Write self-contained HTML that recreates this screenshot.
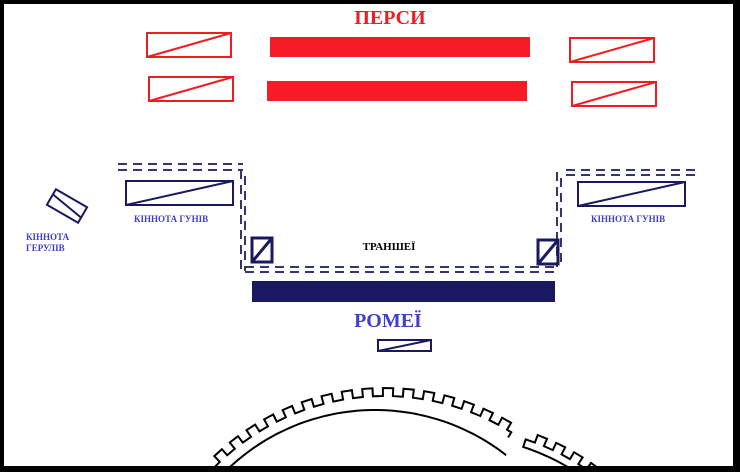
<!DOCTYPE html>
<html><head><meta charset="utf-8"><style>
html,body{margin:0;padding:0;background:#fff;width:740px;height:472px;overflow:hidden}
svg{display:block}
text{font-family:"Liberation Serif",serif;font-weight:bold}
</style></head><body>
<svg id="s" width="740" height="472" viewBox="0 0 740 472" xmlns="http://www.w3.org/2000/svg">
<rect x="0" y="0" width="740" height="472" fill="#fff"/>
<g fill="none" stroke="#ef1c24" stroke-width="2">
<rect x="147" y="33" width="84" height="24"/><line x1="147" y1="57" x2="231" y2="33"/>
<rect x="149" y="77" width="84" height="24"/><line x1="149" y1="101" x2="233" y2="77"/>
<rect x="570" y="38" width="84" height="24"/><line x1="570" y1="62" x2="654" y2="38"/>
<rect x="572" y="82" width="84" height="24"/><line x1="572" y1="106" x2="656" y2="82"/>
</g>
<rect x="270" y="37" width="260" height="20" fill="#f71b26"/>
<rect x="267" y="81" width="260" height="20" fill="#f71b26"/>
<text x="390" y="24" font-size="20" fill="#ef1c24" text-anchor="middle">ПЕРСИ</text>
<g fill="none" stroke="#353570" stroke-width="2" stroke-dasharray="9,6">
<path d="M118 164H243M118 170H243"/>
<path d="M241 170V271M245 176V271"/>
<path d="M245 267H560M245 272H560"/>
<path d="M557 172V267M561 178V267"/>
<path d="M566 170H697M566 175H697"/>
</g>
<g fill="none" stroke="#1a1860" stroke-width="2">
<rect x="126" y="181" width="107" height="24"/><line x1="126" y1="205" x2="233" y2="181"/>
<rect x="578" y="182" width="107" height="24"/><line x1="578" y1="206" x2="685" y2="182"/>
<rect x="378" y="340" width="53" height="11"/><line x1="378" y1="351" x2="431" y2="340"/>
<g transform="translate(67,206) rotate(30)"><rect x="-18" y="-9" width="36" height="18"/><line x1="-18" y1="-3" x2="18" y2="3"/></g>
</g>
<g fill="none" stroke="#1a1860" stroke-width="3">
<rect x="252" y="238" width="20" height="24"/><line x1="252" y1="262" x2="272" y2="238"/>
<rect x="538" y="240" width="20" height="24"/><line x1="538" y1="264" x2="558" y2="240"/>
</g>
<rect x="252" y="281" width="303" height="21" fill="#1a1860"/>
<text x="134" y="222" font-size="9" fill="#4040cc">КІННОТА ГУНІВ</text>
<text x="591" y="222" font-size="9" fill="#4040cc">КІННОТА ГУНІВ</text>
<text x="26" y="240" font-size="9" fill="#4040cc">КІННОТА</text>
<text x="26" y="251" font-size="9" fill="#4040cc">ГЕРУЛІВ</text>
<text x="389" y="250" font-size="11" fill="#000" text-anchor="middle">ТРАНШЕЇ</text>
<text x="388" y="327" font-size="20" fill="#4040cc" text-anchor="middle">РОМЕЇ</text>
<path id="arc" fill="none" stroke="#000" stroke-width="2"/>
<path id="w1" fill="none" stroke="#000" stroke-width="2"/>
<path id="w2" fill="none" stroke="#000" stroke-width="2"/>
<rect x="0" y="0" width="740" height="4" fill="#000"/>
<rect x="0" y="466" width="740" height="6" fill="#000"/>
<rect x="0" y="0" width="4" height="472" fill="#000"/>
<rect x="733" y="0" width="7" height="472" fill="#000"/>
</svg>
<script>
(function(){
function P(cx,cy){return function(r,a){a=a*Math.PI/180;return (cx+r*Math.sin(a)).toFixed(1)+" "+(cy-r*Math.cos(a)).toFixed(1);};}
function cren(p,a0,a1,step,lo,hi,bot){var up=false,a=a0;var pts=[];
 pts.push(p(bot,a0));
 while(a<a1-0.01){var rr=up?hi:lo;pts.push(p(rr,a));var n=Math.min(a+step,a1);pts.push(p(rr,n));a=n;up=!up;}
 pts.push(p(bot,a1));
 return pts;}
var pa=P(375,623);
var ad="M"+pa(213,-46);
for(var t=-45;t<=38;t+=1)ad+=" L"+pa(213,t);
document.getElementById("arc").setAttribute("d",ad);
var p1=P(384.6,635);
var a=cren(p1,-46,32,2.4,239,247,233);
document.getElementById("w1").setAttribute("d","M"+a.join(" L"));
var p2=P(454,660);
var b=cren(p2,18,38,2.4,232,240,224);
var d="M"+b.join(" L");
for(var t2=38;t2>=18;t2-=1)d+=" L"+p2(224,t2);
d+=" Z";
document.getElementById("w2").setAttribute("d",d);
})();
</script>
</body></html>
